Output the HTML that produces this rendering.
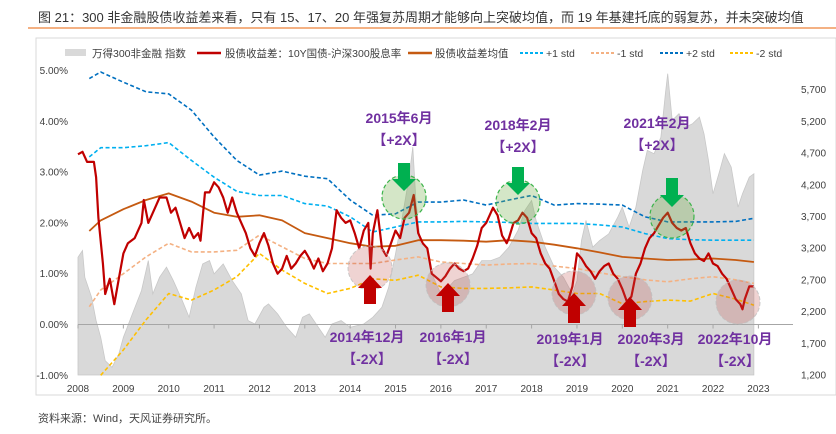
<!DOCTYPE html>
<html><head><meta charset="utf-8"><style>
body{margin:0;background:#fff;width:836px;height:434px;overflow:hidden;font-family:"Liberation Sans","Noto Sans CJK SC",sans-serif;}
#title{position:absolute;left:38px;top:7px;font-size:13px;color:#333;white-space:nowrap;}
#rule{position:absolute;left:28px;top:27px;width:808px;height:2px;background:#f4b183;}
#src{position:absolute;left:38px;top:410px;font-size:11px;color:#444;}
svg{position:absolute;left:0;top:0;}
</style></head><body>
<div id="title">图 21：300 非金融股债收益差来看，只有 15、17、20 年强复苏周期才能够向上突破均值，而 19 年基建托底的弱复苏，并未突破均值</div>
<div id="rule"></div>
<svg id="chart" width="836" height="434"></svg>
<div id="src">资料来源：Wind，天风证券研究所。</div>
<script>
const spreadYears=[2008.0,2008.1,2008.2,2008.35,2008.4,2008.45,2008.55,2008.6,2008.7,2008.8,2008.9,2009.0,2009.1,2009.25,2009.4,2009.45,2009.55,2009.7,2009.8,2009.95,2010.05,2010.15,2010.25,2010.35,2010.45,2010.55,2010.65,2010.7,2010.8,2010.9,2011.0,2011.1,2011.2,2011.3,2011.4,2011.5,2011.6,2011.7,2011.8,2011.9,2012.0,2012.1,2012.2,2012.3,2012.4,2012.5,2012.6,2012.7,2012.8,2012.9,2013.0,2013.1,2013.2,2013.3,2013.4,2013.5,2013.6,2013.7,2013.8,2013.9,2014.0,2014.1,2014.2,2014.3,2014.4,2014.45,2014.5,2014.6,2014.7,2014.8,2014.9,2015.0,2015.1,2015.2,2015.3,2015.4,2015.5,2015.6,2015.7,2015.8,2016.0,2016.1,2016.2,2016.3,2016.4,2016.5,2016.6,2016.7,2016.8,2016.9,2017.0,2017.1,2017.15,2017.25,2017.35,2017.45,2017.5,2017.6,2017.7,2017.8,2017.9,2018.0,2018.1,2018.2,2018.3,2018.4,2018.5,2018.6,2018.7,2018.8,2018.9,2019.0,2019.1,2019.2,2019.3,2019.4,2019.5,2019.6,2019.7,2019.8,2019.9,2020.0,2020.1,2020.2,2020.3,2020.4,2020.5,2020.6,2020.7,2020.8,2020.9,2021.0,2021.1,2021.2,2021.3,2021.4,2021.5,2021.6,2021.7,2021.8,2021.9,2022.0,2022.1,2022.2,2022.3,2022.4,2022.5,2022.6,2022.65,2022.7,2022.8,2022.9];
const spread=[3.35,3.4,3.2,3.2,2.9,2.1,1.2,0.6,0.9,0.4,0.9,1.4,1.6,1.7,2.0,2.45,2.0,2.3,2.5,2.5,2.2,2.3,2.0,1.7,1.9,1.7,1.8,1.65,2.6,2.6,2.8,2.7,2.5,2.2,2.5,2.2,2.0,1.8,1.5,1.35,1.6,1.8,1.55,1.2,1.0,1.1,1.35,1.1,1.2,1.35,1.45,1.3,1.1,1.3,1.05,1.2,1.5,2.25,2.1,2.0,2.05,1.8,1.5,1.85,2.0,1.1,1.8,2.25,1.5,1.35,1.6,1.85,1.7,2.1,2.2,2.55,1.8,1.6,1.5,1.0,0.85,0.95,1.1,1.2,1.1,1.05,1.1,1.3,1.55,1.9,2.0,2.2,2.3,2.15,1.75,1.6,1.7,2.0,2.05,2.2,2.1,1.8,1.7,1.4,1.2,1.1,0.85,0.6,0.5,0.45,0.75,1.4,1.3,1.15,1.05,0.9,1.05,1.15,1.2,1.0,0.9,0.7,0.45,0.55,1.0,1.2,1.5,1.7,1.8,1.95,2.1,2.2,2.0,1.9,1.85,1.9,1.6,1.4,1.3,1.25,1.4,1.2,1.15,1.0,0.9,0.7,0.5,0.4,0.3,0.5,0.75,0.75];
const bandYears=[2008.25,2008.5,2009,2009.5,2010,2010.5,2011,2011.5,2012,2012.5,2013,2013.5,2014,2014.5,2015,2015.5,2016,2016.5,2017,2017.5,2018,2018.5,2019,2019.5,2020,2020.5,2021,2021.5,2022,2022.5,2022.9];
const meanVals=[1.84,2.05,2.27,2.45,2.58,2.42,2.2,2.12,2.15,2.05,1.8,1.7,1.6,1.53,1.55,1.66,1.66,1.65,1.63,1.66,1.63,1.57,1.5,1.42,1.33,1.3,1.27,1.28,1.3,1.27,1.23];
const plus1=[3.3,3.48,3.48,3.52,3.58,3.23,2.9,2.62,2.54,2.54,2.38,2.33,2.12,1.82,1.92,2.02,2.02,2.03,2.02,2.01,1.99,1.99,1.99,1.96,1.92,1.79,1.69,1.67,1.66,1.66,1.66];
const plus2=[4.84,4.97,4.77,4.58,4.54,4.22,3.69,3.23,2.94,3.02,2.92,2.87,2.45,2.15,2.18,2.41,2.41,2.45,2.35,2.45,2.54,2.35,2.38,2.37,2.35,2.12,2.02,2.02,2.02,2.03,2.09];
const minus1=[0.35,0.68,1.0,1.33,1.6,1.43,1.43,1.46,1.76,1.53,1.3,1.2,1.2,1.2,1.27,1.33,1.23,1.2,1.17,1.19,1.2,1.15,1.1,1.02,0.94,0.88,0.84,0.9,0.94,0.88,0.81];
const minus2=[null,-1.0,-0.5,0.09,0.61,0.48,0.68,0.94,1.4,1.07,0.81,0.61,0.71,0.9,0.87,0.97,0.74,0.71,0.71,0.72,0.74,0.68,0.61,0.61,0.41,0.45,0.48,0.46,0.61,0.5,0.38];
const idxYears=[2008.0,2008.1,2008.15,2008.3,2008.4,2008.5,2008.6,2008.75,2008.9,2009.0,2009.2,2009.4,2009.55,2009.65,2009.8,2009.95,2010.1,2010.3,2010.45,2010.6,2010.75,2010.9,2011.0,2011.2,2011.4,2011.6,2011.75,2011.9,2012.1,2012.2,2012.4,2012.6,2012.8,2012.95,2013.1,2013.3,2013.45,2013.6,2013.8,2014.0,2014.3,2014.5,2014.7,2014.85,2015.0,2015.15,2015.3,2015.38,2015.45,2015.55,2015.7,2015.8,2016.0,2016.1,2016.3,2016.5,2016.7,2016.9,2017.1,2017.3,2017.5,2017.7,2017.85,2018.0,2018.1,2018.3,2018.5,2018.7,2018.9,2019.0,2019.1,2019.2,2019.35,2019.5,2019.7,2019.9,2020.0,2020.15,2020.3,2020.45,2020.55,2020.7,2020.85,2020.95,2021.0,2021.1,2021.25,2021.4,2021.55,2021.7,2021.8,2021.9,2022.0,2022.15,2022.25,2022.4,2022.55,2022.65,2022.8,2022.9];
const idxVals=[3058,3163,2742,2426,2058,1795,1426,1321,1532,1795,2163,2532,3005,2479,2742,2900,2689,2374,2110,2584,2953,3005,2795,2953,2689,2479,2058,2005,2268,2321,2163,1953,1795,2110,2163,1953,1795,2005,2058,1953,2005,2110,2268,2584,3110,3690,4321,4795,3953,3268,3216,2795,2479,2532,2689,2742,2795,3005,3005,3058,3216,3479,3795,3953,3637,3216,2900,2742,2479,2689,3321,3637,3216,3321,3426,3690,3848,3532,3848,4426,4742,4690,4953,5637,5953,5216,5321,5111,5163,5268,5005,4584,4058,4426,4690,4479,3848,4058,4321,4374];
const xTicks=[2008,2009,2010,2011,2012,2013,2014,2015,2016,2017,2018,2019,2020,2021,2022,2023];
const yTicks=[5,4,3,2,1,0,-1];
const yTickLabels=["5.00%","4.00%","3.00%","2.00%","1.00%","0.00%","-1.00%"];
const rTicks=[5700,5200,4700,4200,3700,3200,2700,2200,1700,1200];
const rTickLabels=["5,700","5,200","4,700","4,200","3,700","3,200","2,700","2,200","1,700","1,200"];

const X=y=>78+(y-2008)*45.36;
const Y=p=>324.5-p*50.8;
const YR=v=>375-(v-1200)/500*31.7;
const NS='http://www.w3.org/2000/svg';
const svg=document.getElementById('chart');
function mk(tag,attrs,parent){const e=document.createElementNS(NS,tag);for(const k in attrs)e.setAttribute(k,attrs[k]);(parent||svg).appendChild(e);return e;}

let frame=mk('rect',{x:36,y:38,width:800,height:357,fill:'none',stroke:'#d9d9d9'});



const lg=mk('g',{});


const legendItems=[["area",65,92,"万得300非金融 指数","#d9d9d9"],["solid",197,225,"股债收益差：10Y国债-沪深300股息率","#c00000"],["solid",408,435,"股债收益差均值","#c55a11"],["dash",520,546,"+1 std","#00b0f0"],["dash",591,617,"-1 std","#f4b183"],["dash",660,686,"+2 std","#0070c0"],["dash",730,756,"-2 std","#ffc000"]];
legendItems.forEach(it=>{
  const g=mk('g',{},lg);
  
  
  if(it[0]==='area')mk('rect',{x:it[1],y:49,width:21,height:7,fill:'#d9d9d9'},g);
  else mk('line',{x1:it[1],x2:it[1]+24,y1:53,y2:53,stroke:it[4],'stroke-width':it[0]==='solid'?2.5:2,'stroke-dasharray':it[0]==='dash'?'3,2':'none'},g);
  const t=mk('text',{x:it[2],y:57,'font-size':10.5,fill:'#404040'},g);t.textContent=it[3];
});

let d='M'+X(idxYears[0])+','+YR(1200);
idxYears.forEach((yy,i)=>{d+='L'+X(yy).toFixed(1)+','+YR(idxVals[i]).toFixed(1);});
d+='L'+X(idxYears[idxYears.length-1])+','+YR(1200)+'Z';
const area=mk('path',{d:d,fill:'#d9d9d9',stroke:'#c8c8c8','stroke-width':0.8});



const zl=mk('line',{x1:78,x2:793,y1:Y(0),y2:Y(0),stroke:'#a6a6a6','stroke-width':1});


xTicks.forEach(t=>{
  mk('line',{x1:X(t),x2:X(t),y1:Y(0),y2:Y(0)+4,stroke:'#a6a6a6'});
  const tx=mk('text',{x:X(t),y:392,'font-size':10,fill:'#404040','text-anchor':'middle'});
  
  
  tx.textContent=t;
});
yTicks.forEach((t,i)=>{
  const tx=mk('text',{x:68,y:Y(t)+3.5,'font-size':10,fill:'#404040','text-anchor':'end'});
  
  
  tx.textContent=yTickLabels[i];
});
rTicks.forEach((t,i)=>{
  const tx=mk('text',{x:801,y:YR(t)+3.5,'font-size':10,fill:'#404040'});
  
  
  tx.textContent=rTickLabels[i];
});

function line(xs,vs,color,w,dash,name){
  let p='';vs.forEach((v,i)=>{if(v===null)return;p+=(p?'L':'M')+X(xs[i]).toFixed(1)+','+Y(v).toFixed(1);});
  const e=mk('path',{d:p,fill:'none',stroke:color,'stroke-width':w,'stroke-dasharray':dash||'none','stroke-linejoin':'round'});
  
  
}
line(bandYears,plus2,'#0070c0',1.6,'4,2.5','plus2-std-line');
line(bandYears,plus1,'#00b0f0',1.6,'4,2.5','plus1-std-line');
line(bandYears,minus1,'#f4b183',1.6,'4,2.5','minus1-std-line');
line(bandYears,minus2,'#ffc000',1.6,'4,2.5','minus2-std-line');
line(bandYears,meanVals,'#c55a11',1.8,null,'mean-line');
line(spreadYears,spread,'#c00000',2.2,null,'spread-line');

const greens=[[404,197,163,191],[518,202,167,195],[672,216,178,207]];
const reds=[[370,268,275,304],[448,285,283,312],[574,293,293,323],[630,298,297,327],[738,302,0,0]];
reds.forEach(r=>{
  const c=mk('circle',{cx:r[0],cy:r[1],r:22,fill:'rgba(192,80,77,0.25)',stroke:'rgba(190,190,190,0.8)','stroke-width':1,'stroke-dasharray':'4,2'});
  
  
  if(r[2]){const a=mk('path',{d:`M${r[0]-6},${r[3]}V${r[2]+13}H${r[0]-12}L${r[0]},${r[2]}L${r[0]+12},${r[2]+13}H${r[0]+6}V${r[3]}Z`,fill:'#c00000'});
  
  }
});
greens.forEach(g=>{
  const c=mk('circle',{cx:g[0],cy:g[1],r:22,fill:'rgba(112,173,71,0.3)',stroke:'#3cb44b','stroke-width':1.2,'stroke-dasharray':'4,2.5'});
  
  
  const a=mk('path',{d:`M${g[0]-6},${g[2]}V${g[3]-12}H${g[0]-12}L${g[0]},${g[3]}L${g[0]+12},${g[3]-12}H${g[0]+6}V${g[2]}Z`,fill:'#00b050'});
  
  
});
const labels=[[399,118,"2015年6月","【+2X】"],[518,125,"2018年2月","【+2X】"],[657,123,"2021年2月","【+2X】"],[367,337,"2014年12月","【-2X】"],[453,337,"2016年1月","【-2X】"],[570,339,"2019年1月","【-2X】"],[651,339,"2020年3月","【-2X】"],[735,339,"2022年10月","【-2X】"]];
labels.forEach(l=>{
  const g=mk('g',{});
  
  
  const t1=mk('text',{x:l[0],y:l[1]+5,'font-size':14,'font-weight':'bold',fill:'#7030a0','text-anchor':'middle'},g);t1.textContent=l[2];
  const t2=mk('text',{x:l[0],y:l[1]+27,'font-size':14,'font-weight':'bold',fill:'#7030a0','text-anchor':'middle'},g);t2.textContent=l[3];
});
</script>
</body></html>
